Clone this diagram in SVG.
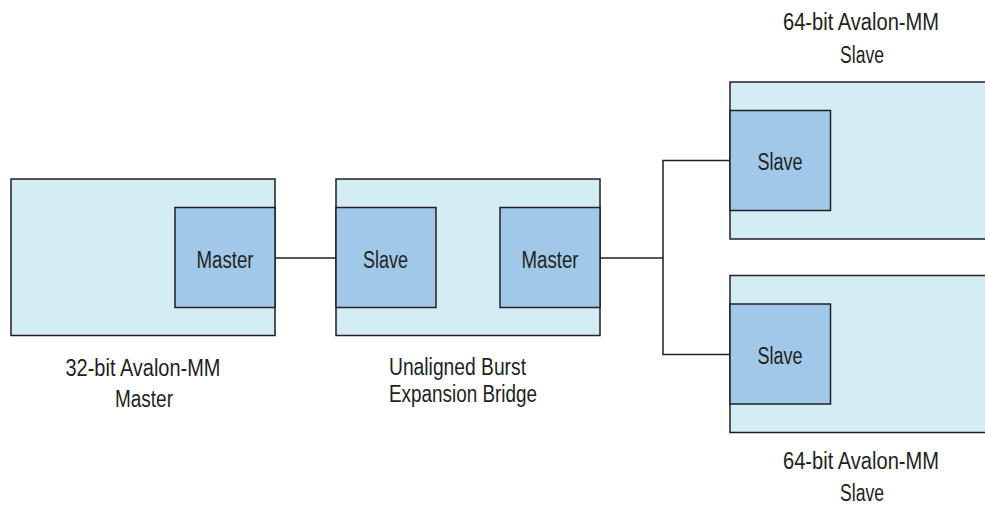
<svg xmlns="http://www.w3.org/2000/svg" width="985" height="506" viewBox="0 0 985 506">
<style>
.outer{fill:#d4ecf3;stroke:#231f20;stroke-width:1.5}
.inner{fill:#a0c9e9;stroke:#231f20;stroke-width:1.5}
.wire{fill:none;stroke:#231f20;stroke-width:1.5}
text{font-family:"Liberation Sans",Arial,sans-serif;font-size:23px;fill:#231f20}
.c{text-anchor:middle}
</style>
<rect width="985" height="506" fill="#ffffff"/>
<g id="master32">
<rect class="outer" x="11" y="179" width="264" height="156.5"/>
<rect class="inner" x="175" y="207.5" width="100" height="100"/>
<text class="c" x="225" y="268" textLength="57" lengthAdjust="spacingAndGlyphs">Master</text>
<text class="c" x="143" y="376" textLength="155" lengthAdjust="spacingAndGlyphs">32-bit Avalon-MM</text>
<text class="c" x="144" y="406.5" textLength="58" lengthAdjust="spacingAndGlyphs">Master</text>
</g>
<g id="bridge">
<rect class="outer" x="336" y="179" width="264" height="156.5"/>
<rect class="inner" x="336" y="207.5" width="100" height="100"/>
<text class="c" x="385.5" y="268" textLength="45" lengthAdjust="spacingAndGlyphs">Slave</text>
<rect class="inner" x="500" y="207.5" width="100" height="100"/>
<text class="c" x="550" y="268" textLength="57" lengthAdjust="spacingAndGlyphs">Master</text>
<text x="389" y="375" textLength="137" lengthAdjust="spacingAndGlyphs">Unaligned Burst</text>
<text x="389" y="401.5" textLength="148" lengthAdjust="spacingAndGlyphs">Expansion Bridge</text>
</g>
<g id="slave64top">
<rect class="outer" x="730" y="82" width="270" height="157"/>
<rect class="inner" x="730" y="110.5" width="100.5" height="100"/>
<text class="c" x="780" y="170" textLength="45" lengthAdjust="spacingAndGlyphs">Slave</text>
<text class="c" x="861" y="30" textLength="156" lengthAdjust="spacingAndGlyphs">64-bit Avalon-MM</text>
<text class="c" x="862" y="63" textLength="44" lengthAdjust="spacingAndGlyphs">Slave</text>
</g>
<g id="slave64bottom">
<rect class="outer" x="730" y="275.5" width="270" height="157"/>
<rect class="inner" x="730" y="304" width="100.5" height="100"/>
<text class="c" x="780" y="363.5" textLength="45" lengthAdjust="spacingAndGlyphs">Slave</text>
<text class="c" x="861" y="468.5" textLength="156" lengthAdjust="spacingAndGlyphs">64-bit Avalon-MM</text>
<text class="c" x="862" y="501" textLength="44" lengthAdjust="spacingAndGlyphs">Slave</text>
</g>
<g id="connectors">
<line class="wire" x1="275" y1="258" x2="336" y2="258"/>
<polyline class="wire" points="600,258 663,258"/>
<polyline class="wire" points="730,160.5 663,160.5 663,354.5 730,354.5"/>
</g>
</svg>
